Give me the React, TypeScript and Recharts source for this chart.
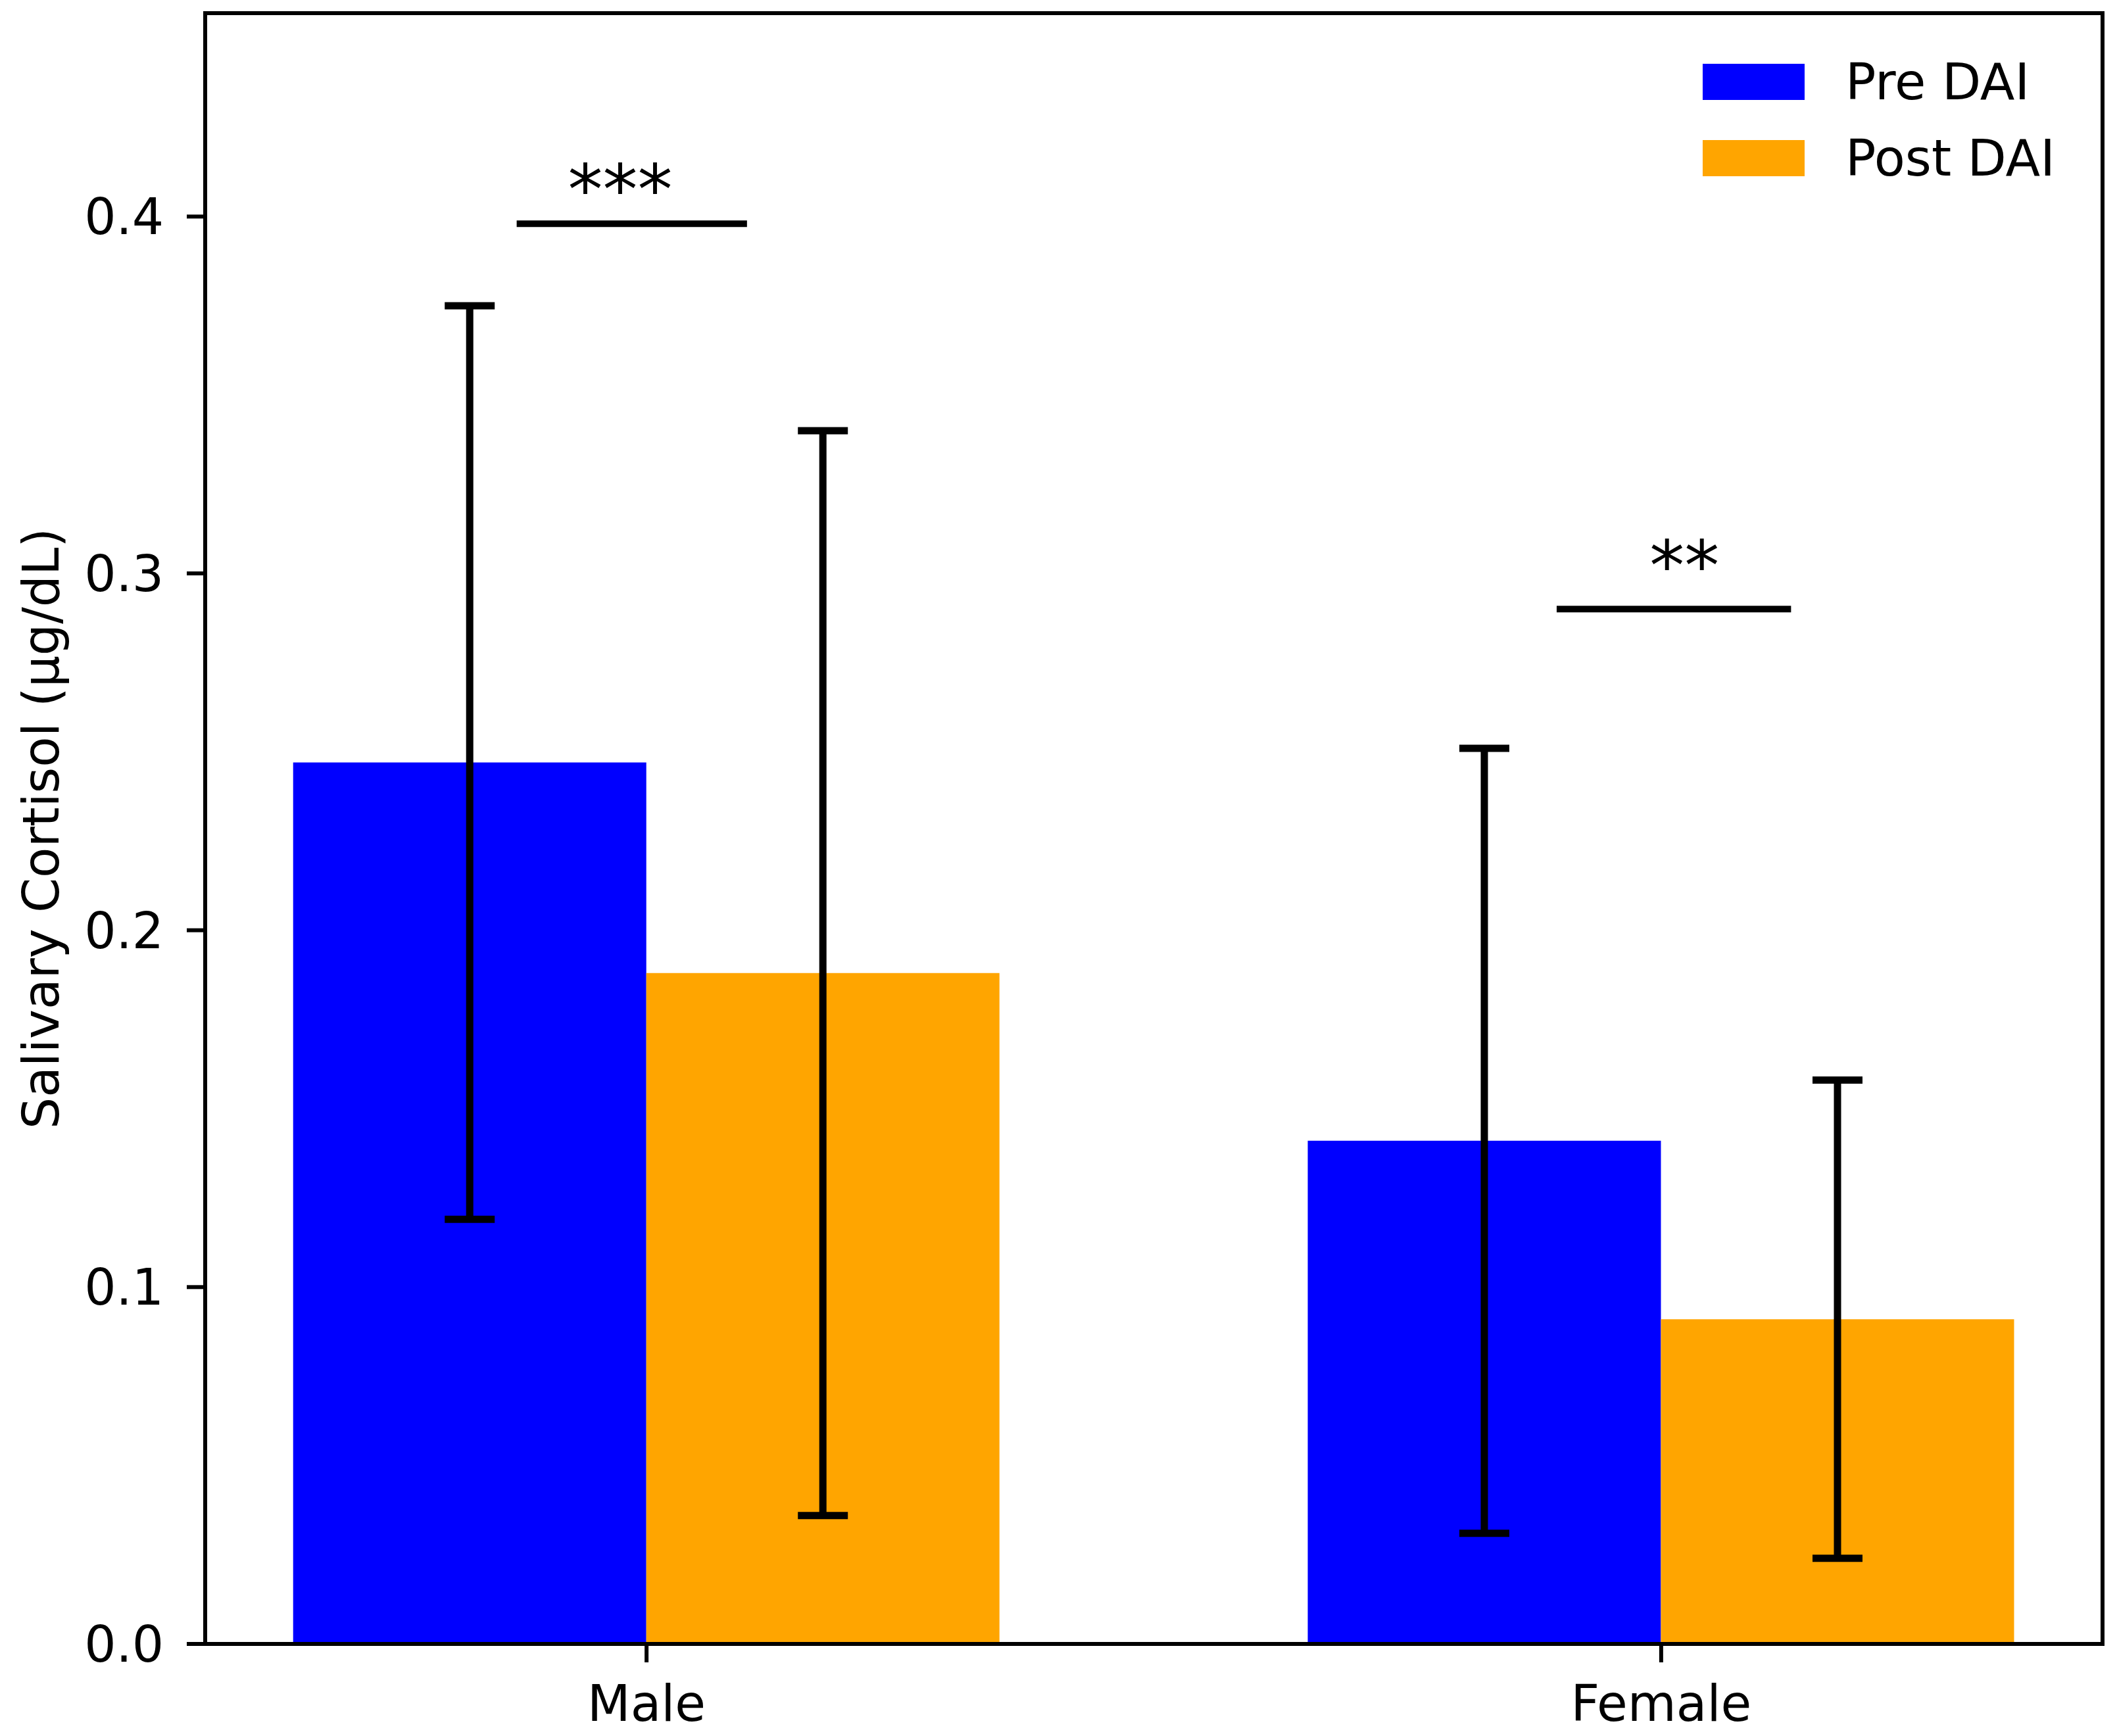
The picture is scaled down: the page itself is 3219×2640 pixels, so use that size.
import React from 'react';
import {
  BarChart,
  Bar,
  XAxis,
  YAxis,
  ErrorBar,
  Legend,
  ReferenceArea,
  ReferenceLine,
  ReferenceDot,
} from 'recharts';

const categories = ['Male', 'Female'];
const preMeans = [0.247, 0.141];
const postMeans = [0.188, 0.091];
const preErrors = [0.128, 0.11];
const postErrors = [0.152, 0.067];
const yTicks = [0, 0.1, 0.2, 0.3, 0.4];
const seriesNames = ['Pre DAI', 'Post DAI'];
const seriesColors = ['#0000ff', '#ffa500'];

// significance brackets, in data units
const sigLabels = ['***', '**'];
const sigLineFrom = [-0.128, 0.897];
const sigLineTo = [0.099, 1.128];
const sigLineY = [0.398, 0.29];
const sigTextX = [-0.026, 1.023];
const sigTextY = [0.4077, 0.3023];

const xDomain: [number, number] = [-0.435, 1.435];
const yDomain: [number, number] = [0, 0.457];

const table = categories.map((name, i) => ({
  x: i,
  name,
  pre: preMeans[i],
  post: postMeans[i],
  preErr: preErrors[i],
  postErr: postErrors[i],
}));

const FONT = '"DejaVu Sans", sans-serif';
const INK = '#000';

function LegendBox() {
  return (
    <div style={{ fontFamily: FONT, fontSize: 77, color: INK }}>
      {seriesNames.map((s, i) => (
        <div key={s} style={{ display: 'flex', alignItems: 'center', height: 116 }}>
          <div style={{ width: 155, height: 55, background: seriesColors[i] }} />
          <span style={{ marginLeft: 62, whiteSpace: 'nowrap' }}>{s}</span>
        </div>
      ))}
    </div>
  );
}

export default function App() {
  return (
    <div style={{ position: 'absolute', left: 0, top: 0, background: '#fff', fontFamily: FONT }}>
      <BarChart
        width={3219}
        height={2640}
        data={table}
        margin={{ top: 20, right: 22, left: 0, bottom: 0 }}
        barGap={0}
        barSize={537}
      >
        <Bar dataKey="pre" name={seriesNames[0]} fill={seriesColors[0]} isAnimationActive={false}>
          <ErrorBar dataKey="preErr" width={38} strokeWidth={11} stroke={INK} isAnimationActive={false} />
        </Bar>
        <Bar dataKey="post" name={seriesNames[1]} fill={seriesColors[1]} isAnimationActive={false}>
          <ErrorBar dataKey="postErr" width={38} strokeWidth={11} stroke={INK} isAnimationActive={false} />
        </Bar>
        <XAxis
          dataKey="x"
          type="number"
          domain={xDomain}
          allowDataOverflow
          ticks={[0, 1]}
          tickFormatter={(v: number) => categories[v] ?? ''}
          height={140}
          tickSize={28}
          tickMargin={35}
          stroke={INK}
          strokeWidth={6}
          tick={{ fill: INK, fontSize: 76, fontFamily: FONT }}
          tickLine={{ stroke: INK, strokeWidth: 6 }}
        />
        <YAxis
          type="number"
          domain={yDomain}
          allowDataOverflow
          ticks={yTicks}
          tickFormatter={(v: number) => v.toFixed(1)}
          width={312}
          tickSize={28}
          tickMargin={35}
          stroke={INK}
          strokeWidth={6}
          tick={{ fill: INK, fontSize: 76, fontFamily: FONT }}
          tickLine={{ stroke: INK, strokeWidth: 6 }}
          label={{
            value: 'Salivary Cortisol (μg/dL)',
            angle: -90,
            position: 'center',
            dx: -94,
            fill: INK,
            fontSize: 76,
            fontFamily: FONT,
          }}
        />
        <ReferenceArea
          x1={xDomain[0]}
          x2={xDomain[1]}
          y1={yDomain[0]}
          y2={yDomain[1]}
          fill="none"
          fillOpacity={0}
          stroke={INK}
          strokeWidth={6}
          ifOverflow="visible"
        />
        {sigLabels.map((lab, i) => (
          <ReferenceLine
            key={'l' + lab}
            segment={[
              { x: sigLineFrom[i], y: sigLineY[i] },
              { x: sigLineTo[i], y: sigLineY[i] },
            ]}
            stroke={INK}
            strokeWidth={10}
          />
        ))}
        {sigLabels.map((lab, i) => (
          <ReferenceDot
            key={'t' + lab}
            x={sigTextX[i]}
            y={sigTextY[i]}
            r={0}
            fill="none"
            stroke="none"
            label={{ value: lab, position: 'center', fontSize: 106, fill: INK, fontFamily: FONT }}
          />
        ))}
        <Legend
          layout="horizontal"
          align="center"
          verticalAlign="middle"
          content={() => <LegendBox />}
          wrapperStyle={{ left: 2589, top: 66, width: 'auto', height: 'auto', bottom: 'auto', right: 'auto' }}
        />
      </BarChart>
    </div>
  );
}
